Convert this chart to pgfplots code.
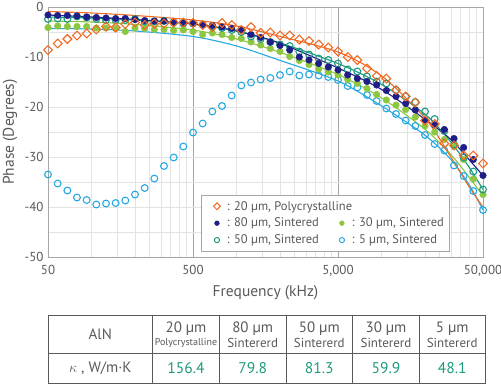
\documentclass[border=0pt]{standalone}
\usepackage{pgfplots}
\pgfplotsset{compat=1.18}
\usepackage{pgfplotstable}
\usepackage{fontspec}
\setmainfont{PT Sans}
\definecolor{cOr}{HTML}{F26A21}
\definecolor{cNv}{HTML}{1E1E86}
\definecolor{cTl}{HTML}{1B9A80}
\definecolor{cGr}{HTML}{8DC63F}
\definecolor{cCy}{HTML}{27A8E0}
\definecolor{cNum}{HTML}{1E9A7E}
\definecolor{cTxt}{HTML}{595959}
\definecolor{cGrid}{HTML}{E3E3E3}
\definecolor{cMaj}{HTML}{A6A6A6}

\pgfplotstableread{
f o n t g c
50 -8.6 -1.6 -2.4 -4.1 -33.5
58.3 -7.3 -1.7 -2.3 -3.8 -35.3
68.0 -6.4 -1.7 -2.4 -3.9 -36.7
79.2 -5.7 -1.8 -1.9 -3.9 -38.1
92.4 -5.3 -2.0 -2.1 -3.9 -38.6
107.7 -4.5 -2.1 -2.4 -4.2 -39.5
125.6 -3.9 -2.2 -2.6 -4.2 -39.3
146.4 -4.1 -2.3 -2.6 -4.3 -39.2
170.7 -3.4 -2.3 -2.6 -4.9 -38.7
199.1 -3.1 -2.5 -2.4 -4.2 -37.5
232.1 -3.6 -2.7 -2.9 -4.3 -36.2
270.6 -3.3 -2.8 -2.9 -4.5 -34.3
315.5 -3.3 -2.8 -2.8 -4.5 -31.8
367.8 -3.1 -3.0 -3.1 -4.7 -30.1
428.8 -3.1 -3.2 -3.3 -4.6 -27.9
500 -3.2 -3.3 -3.3 -4.9 -25.1
583.0 -3.6 -3.5 -3.6 -5.5 -23.3
679.7 -4.0 -3.7 -3.9 -5.2 -20.9
792.4 -3.2 -4.0 -4.2 -5.5 -19.8
923.9 -3.6 -4.3 -4.6 -6.1 -17.7
1077 -4.6 -4.5 -5.0 -6.3 -15.7
1256 -4.0 -5.5 -5.9 -7.0 -15.1
1464 -5.2 -6.1 -6.4 -7.6 -14.5
1707 -5.1 -7.0 -7.0 -8.3 -14.2
1991 -5.7 -7.7 -7.5 -8.9 -13.6
2321 -5.7 -8.6 -7.8 -9.9 -12.9
2706 -6.5 -10.0 -8.9 -10.7 -13.7
3155 -6.8 -10.6 -9.5 -11.5 -13.5
3678 -7.5 -11.3 -10.3 -12.4 -13.7
4288 -8.1 -12.0 -10.6 -13.0 -14.0
5000 -8.9 -12.6 -11.3 -13.6 -14.6
5830 -10.0 -13.6 -12.5 -14.5 -15.8
6797 -10.6 -14.3 -12.9 -15.3 -16.1
7924 -12.3 -14.9 -13.9 -16.3 -17.6
9239 -13.8 -15.6 -14.9 -17.5 -18.8
10772 -14.3 -16.7 -15.3 -18.6 -20.3
12559 -16.6 -17.9 -16.6 -19.6 -21.4
14643 -17.9 -19.3 -17.9 -20.5 -22.7
17072 -19.1 -20.6 -19.0 -22.0 -23.8
19905 -22.7 -22.6 -20.9 -23.8 -25.6
23208 -23.4 -23.6 -22.4 -25.0 -27.4
27058 -27.3 -24.5 -24.8 -26.5 -28.7
31548 -27.7 -26.3 -27.5 -27.9 -31.7
36782 -29.7 -28.1 -30.1 -30.5 -33.8
42885 -29.7 -30.5 -32.9 -34.4 -36.8
50000 -31.3 -33.7 -36.5 -37.5 -40.6
}\pts

\pgfplotstableread{
f o n t g c
50 -0.9 -1.6 -2.0 -2.8 -4.3
100 -1.2 -2.0 -2.2 -3.0 -4.4
200 -1.7 -2.5 -2.6 -3.5 -4.8
500 -2.6 -3.4 -3.4 -4.6 -5.9
1000 -3.8 -4.8 -4.8 -6.4 -7.8
2000 -5.9 -7.3 -7.2 -9.1 -10.7
5000 -9.0 -12.2 -11.3 -13.5 -14.8
10000 -13.8 -16.5 -15.5 -18.2 -19.8
20000 -22.3 -22.5 -21.5 -24.5 -25.7
30000 -30.0 -26.5 -27.0 -29.5 -30.5
40000 -35.9 -30.5 -32.0 -34.0 -35.5
50000 -40.0 -33.7 -36.5 -37.8 -40.6
}\fits

\begin{document}
\begin{tikzpicture}[x=1pt,y=1pt]
\useasboundingbox (-48,-127) rectangle (453,257);
\begin{axis}[
  at={(0pt,0pt)}, anchor=south west,
  scale only axis, width=435pt, height=250pt,
  xmode=log, xmin=50, xmax=50000, ymin=-50, ymax=0,
  xtick={50,500,5000,50000}, xticklabels={50,500,{5,000},{50,000}},
  minor xtick={100,150,200,250,300,350,400,450,1000,1500,2000,2500,3000,3500,4000,4500,10000,15000,20000,25000,30000,35000,40000,45000},
  ytick={-50,-40,-30,-20,-10,0}, yticklabels={-50,-40,-30,-20,-10,0},
  minor ytick={-45,-35,-25,-15,-5},
  major tick length=0pt, minor tick length=0pt,
  xmajorgrids, xminorgrids, ymajorgrids, yminorgrids,
  major x grid style={cMaj, line width=0.8pt},
  minor x grid style={cGrid, line width=0.6pt},
  major y grid style={cGrid, line width=0.6pt},
  minor y grid style={cGrid, line width=0.6pt},
  axis line style={cMaj, line width=0.8pt},
  tick label style={font=\fontsize{13}{15}\selectfont, text=cTxt},
  xticklabel style={yshift=-5pt},
  yticklabel style={xshift=-1pt},
  xlabel={Frequency (kHz)}, ylabel={Phase (Degrees)},
  label style={font=\fontsize{15.5}{17}\selectfont, text=cTxt},
  xlabel style={at={(axis description cs:0.5,-0.144)}, anchor=center},
  ylabel style={at={(axis description cs:-0.0874,0.5)}, anchor=center},
  legend columns=2,
  legend cell align=left,
  legend style={at={(0.922,0.024)}, anchor=south east, draw=cMaj, fill=white,
    font=\fontsize{12.5}{15}\selectfont, text=cTxt, row sep=2.5pt, inner ysep=3.5pt, inner xsep=3pt,
    /tikz/every even column/.append style={column sep=8pt}},
]
% fitted curves
\addplot[cCy, line width=1.1pt, smooth, forget plot] table[x=f,y=c] {\fits};
\addplot[cGr, line width=1.1pt, smooth, forget plot] table[x=f,y=g] {\fits};
\addplot[cTl, line width=1.1pt, smooth, forget plot] table[x=f,y=t] {\fits};
\addplot[cNv, line width=1.1pt, smooth, forget plot] table[x=f,y=n] {\fits};
\addplot[cOr, line width=1.1pt, smooth, forget plot] table[x=f,y=o] {\fits};
% measured points
\addplot[only marks, mark=o, mark size=3.4pt, cCy, line width=1.1pt, forget plot] table[x=f,y=c] {\pts};
\addplot[only marks, mark=*, mark size=3.3pt, cGr, draw=cGr, fill=cGr, forget plot] table[x=f,y=g] {\pts};
\addplot[only marks, mark=o, mark size=3.4pt, cTl, line width=1.1pt, forget plot] table[x=f,y=t] {\pts};
\addplot[only marks, mark=*, mark size=3.3pt, cNv, draw=cNv, fill=cNv, forget plot] table[x=f,y=n] {\pts};
\addplot[only marks, mark=square, mark size=3.1pt, mark options={rotate=45, fill=white}, cOr, line width=1.1pt, forget plot] table[x=f,y=o] {\pts};
% legend
\pgfplotsset{mklg/.style={legend image code/.code={\path[draw=none,fill=none] (0pt,0pt) -- (21pt,0pt); \draw[##1] plot coordinates {(13pt,0pt)};}}}
\addlegendimage{only marks, mark=square, mark size=2.4pt, mark options={rotate=45}, cOr, line width=1pt, mklg}
\addlegendentry{\makebox[0pt][l]{: 20 µm, Polycrystalline}}
\addlegendimage{empty legend}
\addlegendentry{}
\addlegendimage{only marks, mark=*, mark size=2.4pt, cNv, mklg}
\addlegendentry{: 80 µm, Sintered}
\addlegendimage{only marks, mark=*, mark size=2.4pt, cGr, mklg}
\addlegendentry{: 30 µm, Sintered}
\addlegendimage{only marks, mark=o, mark size=2.6pt, cTl, line width=1pt, mklg}
\addlegendentry{: 50 µm, Sintered}
\addlegendimage{only marks, mark=o, mark size=2.6pt, cCy, line width=1pt, mklg}
\addlegendentry{: 5 µm, Sintered}
\end{axis}
% property table
\begin{scope}[line width=0.8pt, draw=cTxt]
\draw (0,-58) rectangle (437,-126.3);
\draw (0,-96.3) -- (437,-96.3);
\foreach \xx in {104.7,171.3,238,304.7,371.3} \draw (\xx,-58) -- (\xx,-126.3);
\end{scope}
\begin{scope}[text=cTxt]
\node[font=\fontsize{15}{17}\selectfont] at (52.3,-77.5) {AlN};
\node[font=\fontsize{15}{17}\selectfont] at (52.3,-111.5) {$\kappa$ , W/m·K};
\foreach \cx/\a/\b/\sz in {138/20 µm/Polycrystalline/10, 204.7/80 µm/Sintererd/13, 271.3/50 µm/Sintererd/13, 338/30 µm/Sintererd/13, 404.2/5 µm/Sintererd/13} {
  \node[font=\fontsize{15}{17}\selectfont] at (\cx,-71.5) {\a};
  \node[font=\fontsize{\sz}{15}\selectfont] at (\cx,-86) {\b};
}
\end{scope}
\foreach \cx/\v in {138/156.4, 204.7/79.8, 271.3/81.3, 338/59.9, 404.2/48.1}
  \node[font=\fontsize{15.5}{17}\selectfont, text=cNum] at (\cx,-111.5) {\v};
\end{tikzpicture}
\end{document}
